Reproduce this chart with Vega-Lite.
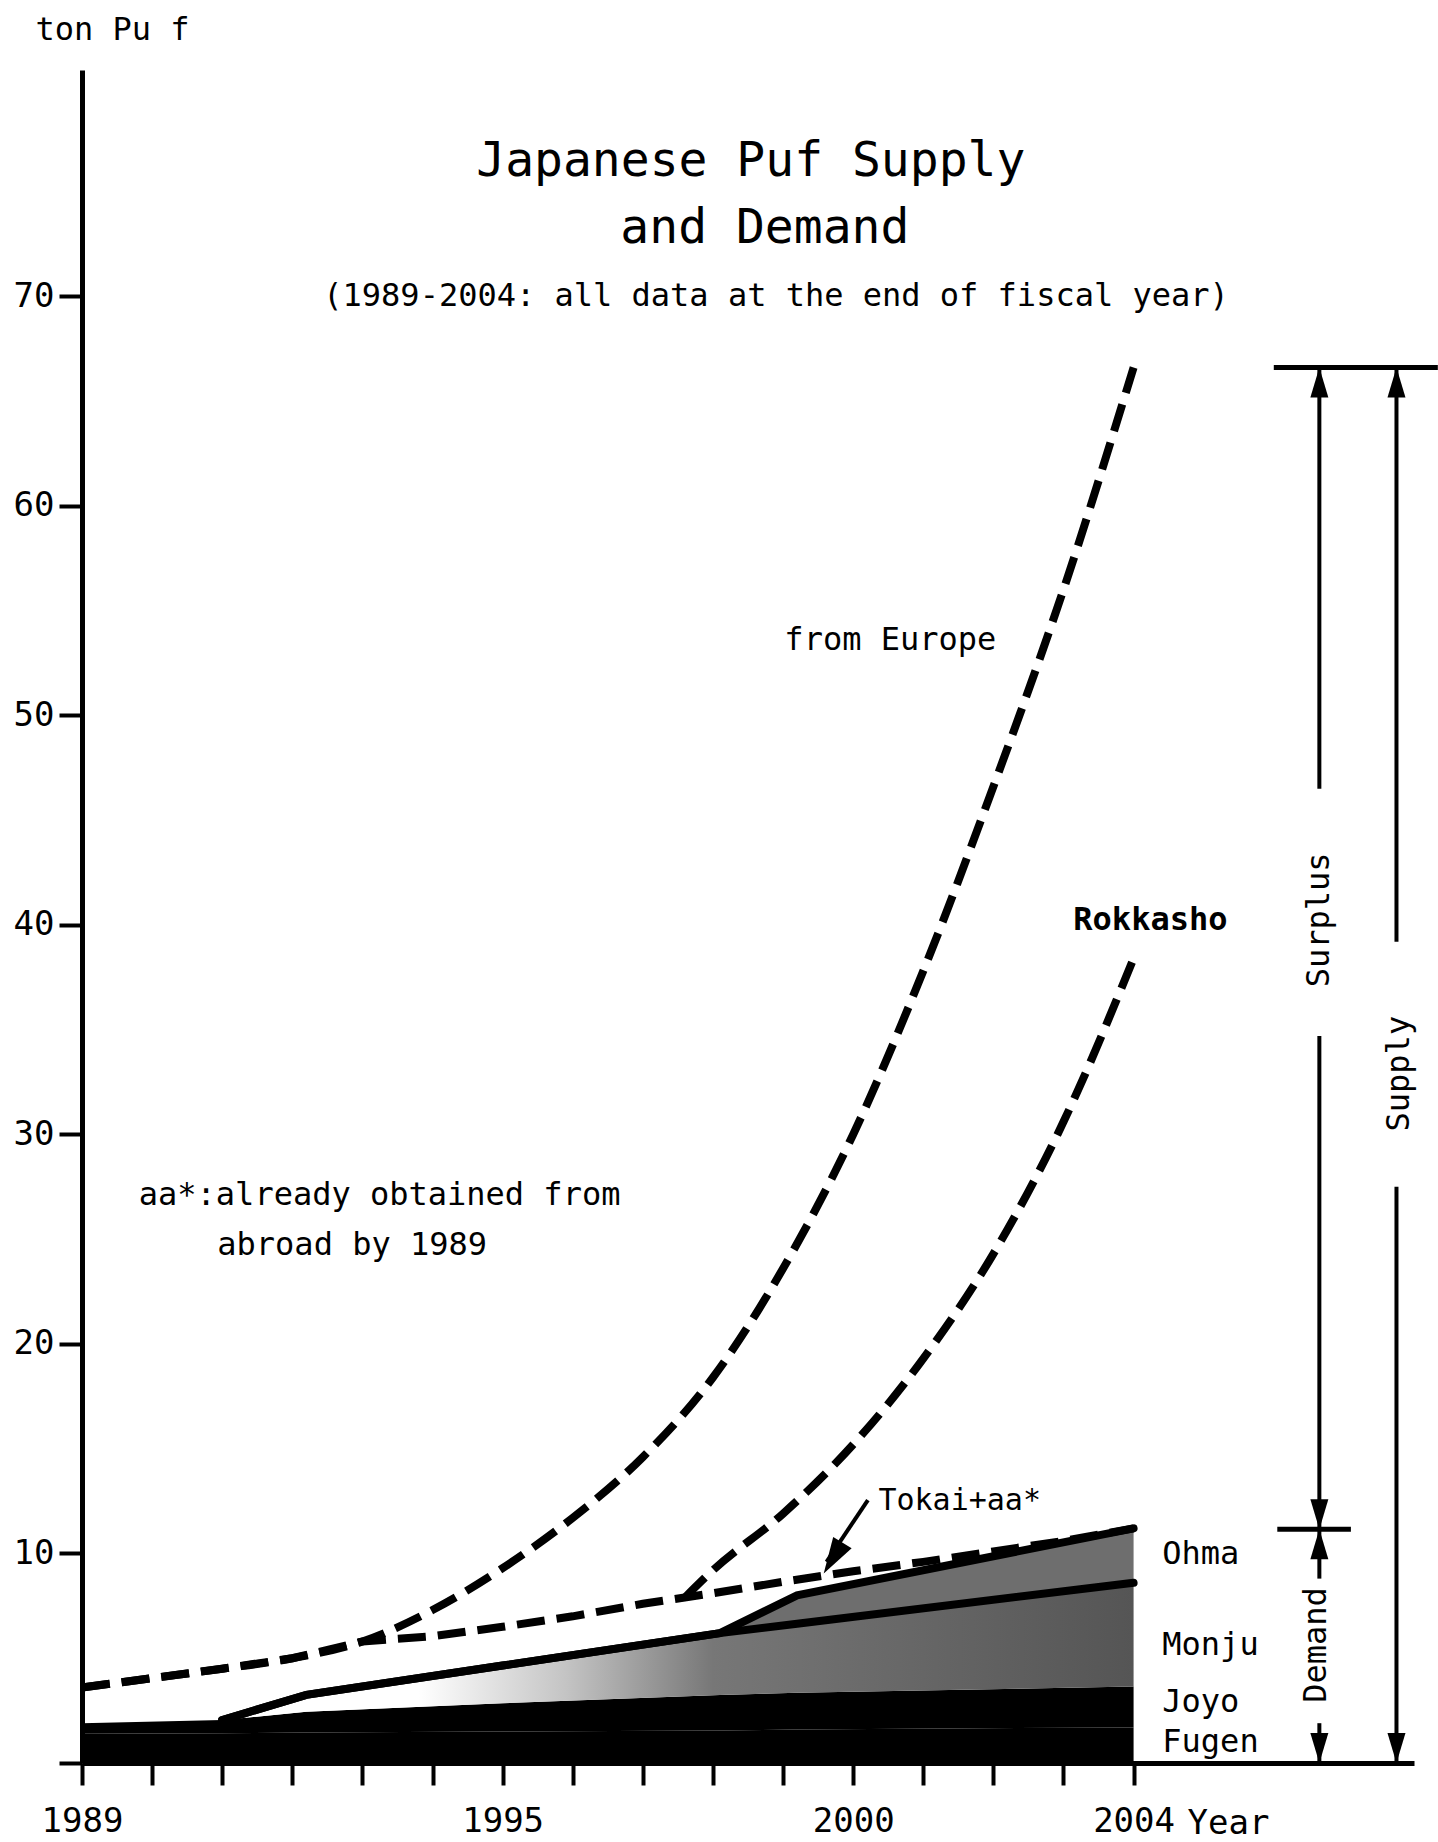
{
  "$schema": "https://vega.github.io/schema/vega-lite/v6.json",
  "width": 1332,
  "height": 1693,
  "autosize": {"type": "none"},
  "padding": {"left": 82, "top": 70, "right": 24, "bottom": 79},
  "background": "white",
  "config": {"view": {"stroke": null}, "font": "DejaVu Sans Mono", "text": {"color": "black", "font": "DejaVu Sans Mono"}},
  "datasets": {
    "demand": [
      {"year": 1989, "fugen": 1.4, "joyo": 1.9, "monju": 1.9, "ohma": 1.9},
      {"year": 1991, "fugen": 1.42, "joyo": 2.05, "monju": 2.05, "ohma": 2.05},
      {"year": 1992.2, "fugen": 1.45, "joyo": 2.45, "monju": 3.25, "ohma": 3.25},
      {"year": 1995, "fugen": 1.5, "joyo": 2.85, "monju": 4.65, "ohma": 4.65},
      {"year": 1998.1, "fugen": 1.55, "joyo": 3.25, "monju": 6.2, "ohma": 6.2},
      {"year": 1999.2, "fugen": 1.6, "joyo": 3.35, "monju": 6.65, "ohma": 8.0},
      {"year": 2004, "fugen": 1.7, "joyo": 3.65, "monju": 8.6, "ohma": 11.2}
    ],
    "supply": [
      {"year": 1989, "line": "from Europe", "v": 3.6},
      {"year": 1990, "line": "from Europe", "v": 4.05},
      {"year": 1991, "line": "from Europe", "v": 4.5},
      {"year": 1992, "line": "from Europe", "v": 5.0},
      {"year": 1993, "line": "from Europe", "v": 5.8},
      {"year": 1994, "line": "from Europe", "v": 7.3},
      {"year": 1995, "line": "from Europe", "v": 9.3},
      {"year": 1996, "line": "from Europe", "v": 11.7},
      {"year": 1997, "line": "from Europe", "v": 14.6},
      {"year": 1998, "line": "from Europe", "v": 18.4},
      {"year": 1999, "line": "from Europe", "v": 23.6},
      {"year": 2000, "line": "from Europe", "v": 30.0},
      {"year": 2001, "line": "from Europe", "v": 37.8},
      {"year": 2002, "line": "from Europe", "v": 46.6},
      {"year": 2003, "line": "from Europe", "v": 56.0},
      {"year": 2004, "line": "from Europe", "v": 66.6},
      {"year": 1997.6, "line": "Rokkasho", "v": 7.9},
      {"year": 1998, "line": "Rokkasho", "v": 9.2},
      {"year": 1999, "line": "Rokkasho", "v": 11.9},
      {"year": 2000, "line": "Rokkasho", "v": 15.2},
      {"year": 2001, "line": "Rokkasho", "v": 19.3},
      {"year": 2002, "line": "Rokkasho", "v": 24.3},
      {"year": 2003, "line": "Rokkasho", "v": 30.6},
      {"year": 2004, "line": "Rokkasho", "v": 38.4},
      {"year": 1989, "line": "Tokai+aa*", "v": 3.6},
      {"year": 1990, "line": "Tokai+aa*", "v": 4.05},
      {"year": 1991, "line": "Tokai+aa*", "v": 4.5},
      {"year": 1992, "line": "Tokai+aa*", "v": 5.0},
      {"year": 1993, "line": "Tokai+aa*", "v": 5.8},
      {"year": 1994, "line": "Tokai+aa*", "v": 6.05},
      {"year": 1995, "line": "Tokai+aa*", "v": 6.5},
      {"year": 1996, "line": "Tokai+aa*", "v": 7.0},
      {"year": 1997, "line": "Tokai+aa*", "v": 7.6},
      {"year": 1998, "line": "Tokai+aa*", "v": 8.1},
      {"year": 1999, "line": "Tokai+aa*", "v": 8.65},
      {"year": 2000, "line": "Tokai+aa*", "v": 9.15},
      {"year": 2001, "line": "Tokai+aa*", "v": 9.6},
      {"year": 2002, "line": "Tokai+aa*", "v": 10.1},
      {"year": 2003, "line": "Tokai+aa*", "v": 10.6},
      {"year": 2004, "line": "Tokai+aa*", "v": 11.2}
    ]
  },
  "layer": [
    {
      "data": {"name": "demand"},
      "mark": {"type": "area", "color": "black", "opacity": 1},
      "encoding": {
        "x": {
          "field": "year", "type": "quantitative",
          "scale": {"domain": [1989, 2008], "nice": false, "zero": false},
          "axis": {
            "values": [1989, 1990, 1991, 1992, 1993, 1994, 1995, 1996, 1997, 1998, 1999, 2000, 2001, 2002, 2003, 2004],
            "labelExpr": "(datum.value == 1989 || datum.value == 1995 || datum.value == 2000 || datum.value == 2004) ? '' + datum.value : ''",
            "grid": false, "tickSize": 22, "tickWidth": 4, "tickColor": "black",
            "domainColor": "black", "domainWidth": 5,
            "labelFont": "DejaVu Sans Mono", "labelFontSize": 34, "labelColor": "black", "labelPadding": 19,
            "labelFlush": false, "labelOverlap": false,
            "title": "Year", "titleFont": "DejaVu Sans Mono", "titleFontSize": 34, "titleFontWeight": "normal", "titleColor": "black",
            "titleX": 1146, "titleY": 60, "titleAlign": "center", "titleBaseline": "middle", "titleAnchor": null
          }
        },
        "y": {
          "field": "fugen", "type": "quantitative",
          "scale": {"domain": [0, 80.8], "nice": false, "zero": true},
          "axis": {
            "values": [0, 10, 20, 30, 40, 50, 60, 70],
            "labelExpr": "datum.value == 0 ? '' : datum.label",
            "grid": false, "tickSize": 23, "tickWidth": 4, "tickColor": "black",
            "domainColor": "black", "domainWidth": 5,
            "labelFont": "DejaVu Sans Mono", "labelFontSize": 34, "labelColor": "black", "labelPadding": 5,
            "labelFlush": false, "labelOverlap": false,
            "title": "ton Pu f", "titleFont": "DejaVu Sans Mono", "titleFontSize": 32, "titleFontWeight": "normal", "titleColor": "black",
            "titleAngle": 0, "titleX": -47, "titleY": -41, "titleAlign": "left", "titleBaseline": "middle", "titleAnchor": null
          }
        }
      }
    },
    {
      "data": {"name": "demand"},
      "mark": {"type": "area", "color": "black", "opacity": 1},
      "encoding": {
        "x": {"field": "year", "type": "quantitative"},
        "y": {"field": "joyo", "type": "quantitative"},
        "y2": {"field": "fugen"}
      }
    },
    {
      "data": {"name": "demand"},
      "mark": {
        "type": "area", "opacity": 1,
        "fill": {"gradient": "linear", "x1": 0, "y1": 0, "x2": 1, "y2": 0,
          "stops": [
            {"offset": 0, "color": "#ffffff"},
            {"offset": 0.32, "color": "#ffffff"},
            {"offset": 0.46, "color": "#c4c4c4"},
            {"offset": 0.6, "color": "#777777"},
            {"offset": 1, "color": "#555555"}
          ]}
      },
      "encoding": {
        "x": {"field": "year", "type": "quantitative"},
        "y": {"field": "monju", "type": "quantitative"},
        "y2": {"field": "joyo"}
      }
    },
    {
      "data": {"name": "demand"},
      "mark": {"type": "area", "color": "#6e6e6e", "opacity": 1},
      "encoding": {
        "x": {"field": "year", "type": "quantitative"},
        "y": {"field": "ohma", "type": "quantitative"},
        "y2": {"field": "monju"}
      }
    },
    {
      "data": {"name": "demand"},
      "transform": [{"filter": "datum.year >= 1991"}],
      "mark": {"type": "line", "color": "black", "strokeWidth": 8, "strokeCap": "round"},
      "encoding": {
        "x": {"field": "year", "type": "quantitative"},
        "y": {"field": "monju", "type": "quantitative"}
      }
    },
    {
      "data": {"name": "demand"},
      "transform": [{"filter": "datum.year >= 1991"}],
      "mark": {"type": "line", "color": "black", "strokeWidth": 8, "strokeCap": "round"},
      "encoding": {
        "x": {"field": "year", "type": "quantitative"},
        "y": {"field": "ohma", "type": "quantitative"}
      }
    },
    {
      "data": {"name": "supply"},
      "transform": [{"filter": "datum.line == 'Tokai+aa*'"}],
      "mark": {"type": "line", "color": "black", "strokeWidth": 8, "strokeDash": [28, 12], "interpolate": "linear"},
      "encoding": {
        "x": {"field": "year", "type": "quantitative"},
        "y": {"field": "v", "type": "quantitative"}
      }
    },
    {
      "data": {"name": "supply"},
      "transform": [{"filter": "datum.line == 'from Europe'"}],
      "mark": {"type": "line", "color": "black", "strokeWidth": 8, "strokeDash": [28, 12], "interpolate": "monotone"},
      "encoding": {
        "x": {"field": "year", "type": "quantitative"},
        "y": {"field": "v", "type": "quantitative"}
      }
    },
    {
      "data": {"name": "supply"},
      "transform": [{"filter": "datum.line == 'Rokkasho'"}],
      "mark": {"type": "line", "color": "black", "strokeWidth": 8, "strokeDash": [28, 12], "interpolate": "monotone"},
      "encoding": {
        "x": {"field": "year", "type": "quantitative"},
        "y": {"field": "v", "type": "quantitative"}
      }
    },
    {
      "data": {"values": [
        {"year": 2006.65, "v": 66.6, "v2": 46.5},
        {"year": 2006.65, "v": 34.7, "v2": 11.15},
        {"year": 2006.65, "v": 11.15, "v2": 8.8},
        {"year": 2006.65, "v": 1.9, "v2": 0},
        {"year": 2007.75, "v": 66.6, "v2": 39.2},
        {"year": 2007.75, "v": 27.5, "v2": 0}
      ]},
      "mark": {"type": "rule", "color": "black", "strokeWidth": 4},
      "encoding": {
        "x": {"field": "year", "type": "quantitative"},
        "y": {"field": "v", "type": "quantitative"},
        "y2": {"field": "v2"}
      }
    },
    {
      "data": {"values": [
        {"year": 2006.0, "year2": 2008.34, "v": 66.6},
        {"year": 2006.05, "year2": 2007.1, "v": 11.15}
      ]},
      "mark": {"type": "rule", "color": "black", "strokeWidth": 5},
      "encoding": {
        "x": {"field": "year", "type": "quantitative"},
        "x2": {"field": "year2"},
        "y": {"field": "v", "type": "quantitative"}
      }
    },
    {
      "data": {"values": [
        {"year": 2000.21, "v": 12.55, "year2": 1999.62, "v2": 9.6}
      ]},
      "mark": {"type": "rule", "color": "black", "strokeWidth": 4},
      "encoding": {
        "x": {"field": "year", "type": "quantitative"},
        "x2": {"field": "year2"},
        "y": {"field": "v", "type": "quantitative"},
        "y2": {"field": "v2"}
      }
    },
    {
      "data": {"values": [
        {"year": 2006.65, "v": 66.6, "dir": "up", "arrow": "Surplus"},
        {"year": 2006.65, "v": 11.15, "dir": "down", "arrow": "Surplus"},
        {"year": 2006.65, "v": 11.15, "dir": "up", "arrow": "Demand"},
        {"year": 2006.65, "v": 0, "dir": "down", "arrow": "Demand"},
        {"year": 2007.75, "v": 66.6, "dir": "up", "arrow": "Supply"},
        {"year": 2007.75, "v": 0, "dir": "down", "arrow": "Supply"}
      ]},
      "mark": {"type": "point", "filled": true, "opacity": 1, "color": "black", "strokeWidth": 0},
      "encoding": {
        "x": {"field": "year", "type": "quantitative"},
        "y": {"field": "v", "type": "quantitative"},
        "shape": {"field": "dir", "type": "nominal", "legend": null,
          "scale": {"domain": ["up", "down"], "range": ["M0,0L-0.3,1L0.3,1Z", "M0,0L-0.3,-1L0.3,-1Z"]}},
        "size": {"field": "arrow", "type": "ordinal", "legend": null,
          "scale": {"domain": ["Surplus", "Demand", "Supply"], "range": [3600, 3600, 8100]}}
      }
    },
    {
      "data": {"values": [{"year": 1999.58, "v": 9.05}]},
      "mark": {"type": "point", "filled": true, "opacity": 1, "color": "black", "strokeWidth": 0,
        "shape": "M0,0L0.776,-0.698L0.264,-1.01Z", "size": 5184},
      "encoding": {
        "x": {"field": "year", "type": "quantitative"},
        "y": {"field": "v", "type": "quantitative"}
      }
    },
    {
      "data": {"values": [
        {"year": 1998.54, "v": 76.4, "text": "Japanese   Puf   Supply"},
        {"year": 1998.74, "v": 73.2, "text": "and   Demand"}
      ]},
      "mark": {"type": "text", "fontSize": 48, "align": "center", "baseline": "middle", "font": "DejaVu Sans Mono"},
      "encoding": {
        "x": {"field": "year", "type": "quantitative"},
        "y": {"field": "v", "type": "quantitative"},
        "text": {"field": "text"}
      }
    },
    {
      "data": {"values": [
        {"year": 1998.9, "v": 70.0, "text": "(1989-2004: all data at the end of fiscal year)"},
        {"year": 2000.53, "v": 53.6, "text": "from Europe"}
      ]},
      "mark": {"type": "text", "fontSize": 32, "align": "center", "baseline": "middle", "font": "DejaVu Sans Mono"},
      "encoding": {
        "x": {"field": "year", "type": "quantitative"},
        "y": {"field": "v", "type": "quantitative"},
        "text": {"field": "text"}
      }
    },
    {
      "data": {"values": [
        {"year": 2004.24, "v": 40.24, "text": "Rokkasho"}
      ]},
      "mark": {"type": "text", "fontSize": 32, "fontWeight": "bold", "align": "center", "baseline": "middle", "font": "DejaVu Sans Mono"},
      "encoding": {
        "x": {"field": "year", "type": "quantitative"},
        "y": {"field": "v", "type": "quantitative"},
        "text": {"field": "text"}
      }
    },
    {
      "data": {"values": [
        {"year": 1989.81, "v": 27.1, "text": "aa*:already obtained from"},
        {"year": 1990.93, "v": 24.7, "text": "abroad by 1989"},
        {"year": 2004.41, "v": 9.98, "text": "Ohma"},
        {"year": 2004.41, "v": 5.63, "text": "Monju"},
        {"year": 2004.41, "v": 2.9, "text": "Joyo"},
        {"year": 2004.41, "v": 1.0, "text": "Fugen"}
      ]},
      "mark": {"type": "text", "fontSize": 32, "align": "left", "baseline": "middle", "font": "DejaVu Sans Mono"},
      "encoding": {
        "x": {"field": "year", "type": "quantitative"},
        "y": {"field": "v", "type": "quantitative"},
        "text": {"field": "text"}
      }
    },
    {
      "data": {"values": [
        {"year": 2000.36, "v": 12.5, "text": "Tokai+aa*"}
      ]},
      "mark": {"type": "text", "fontSize": 30, "align": "left", "baseline": "middle", "font": "DejaVu Sans Mono"},
      "encoding": {
        "x": {"field": "year", "type": "quantitative"},
        "y": {"field": "v", "type": "quantitative"},
        "text": {"field": "text"}
      }
    },
    {
      "data": {"values": [
        {"year": 2006.64, "v": 40.24, "text": "Surplus"},
        {"year": 2007.79, "v": 32.9, "text": "Supply"},
        {"year": 2006.6, "v": 5.63, "text": "Demand"}
      ]},
      "mark": {"type": "text", "fontSize": 32, "angle": 270, "align": "center", "baseline": "middle", "font": "DejaVu Sans Mono"},
      "encoding": {
        "x": {"field": "year", "type": "quantitative"},
        "y": {"field": "v", "type": "quantitative"},
        "text": {"field": "text"}
      }
    }
  ]
}
